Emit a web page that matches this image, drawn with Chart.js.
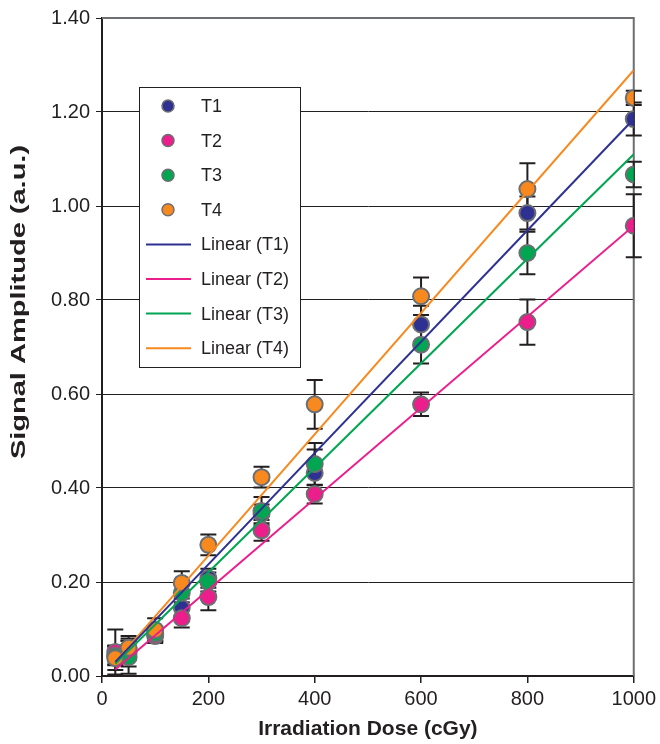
<!DOCTYPE html>
<html>
<head>
<meta charset="utf-8">
<script src="https://cdn.jsdelivr.net/npm/chart.js@4.4.1/dist/chart.umd.min.js"></script>
<style>
  html, body { margin: 0; padding: 0; background: #fff; }
  #wrap { width: 660px; height: 744px; position: relative; }
</style>
</head>
<body>
<div id="wrap"><canvas id="chart"></canvas></div>
<script>
// Dosis (cGy)
const doses = [25, 50, 100, 150, 200, 300, 400, 600, 800, 1000];

// Amplitud de señal por serie
const t1 = [0.045, 0.05, 0.09, 0.145, 0.208, 0.345, 0.432, 0.748, 0.985, 1.185];
const t2 = [0.051, 0.055, 0.085, 0.123, 0.168, 0.31, 0.387, 0.578, 0.753, 0.958];
const t3 = [0.043, 0.04, 0.09, 0.177, 0.20, 0.351, 0.451, 0.705, 0.90, 1.067];
const t4 = [0.038, 0.06, 0.098, 0.198, 0.279, 0.423, 0.578, 0.808, 1.036, 1.23];

// Barras de error (+/-)
const t1Err = [0.02, 0.03, 0.015, 0.02, 0.02, 0.02, 0.05, 0.04, 0.035, 0.035];
const t2Err = [0.048, 0.02, 0.015, 0.02, 0.028, 0.022, 0.02, 0.025, 0.048, 0.067];
const t3Err = [0.02, 0.035, 0.015, 0.02, 0.02, 0.03, 0.045, 0.04, 0.045, 0.027];
const t4Err = [0.025, 0.025, 0.025, 0.025, 0.022, 0.022, 0.052, 0.04, 0.055, 0.015];

// Tendencias lineales (valor en la primera y última dosis)
const trendStart = [0.03, 0.014, 0.026, 0.03];
const trendEnd   = [1.185, 0.958, 1.11, 1.289];

const seriesNames = ['T1', 'T2', 'T3', 'T4'];
const seriesValues = [t1, t2, t3, t4];
const seriesErrors = [t1Err, t2Err, t3Err, t4Err];
const colors = ['#2E3192', '#EC1E8C', '#00A651', '#F7891F'];

const yTicks = [0, 0.2, 0.4, 0.6, 0.8, 1.0, 1.2, 1.4];
const xTicks = [0, 200, 400, 600, 800, 1000];

const FONT = '"Liberation Sans", Arial, sans-serif';
const INK = '#231F20';

function points(vals) {
    return doses.map(function (d, i) { return { x: d, y: vals[i] }; });
}

const datasets = [];
seriesNames.forEach(function (name, i) {
    datasets.push({
        type: 'scatter',
        label: name,
        data: points(seriesValues[i]),
        errors: seriesErrors[i],
        backgroundColor: colors[i],
        borderColor: '#6D6E71',
        borderWidth: 2,
        pointRadius: 8,
        pointHoverRadius: 8,
        order: 5 - i
    });
});
seriesNames.forEach(function (name, i) {
    datasets.push({
        type: 'line',
        label: 'Linear (' + name + ')',
        data: [
            { x: doses[0], y: trendStart[i] },
            { x: doses[doses.length - 1], y: trendEnd[i] }
        ],
        borderColor: colors[i],
        borderWidth: 2,
        pointRadius: 0,
        fill: false,
        order: 1
    });
});

// Barras de error, debajo de los marcadores
const errorBars = {
    id: 'errorBars',
    beforeDatasetsDraw: function (chart) {
        const ctx = chart.ctx;
        const xs = chart.scales.x, ys = chart.scales.y;
        ctx.save();
        ctx.strokeStyle = INK;
        ctx.lineWidth = 2;
        chart.data.datasets.forEach(function (ds) {
            if (!ds.errors) return;
            ds.data.forEach(function (p, i) {
                const e = ds.errors[i];
                const px = xs.getPixelForValue(p.x);
                const top = ys.getPixelForValue(p.y + e);
                const bot = ys.getPixelForValue(p.y - e);
                ctx.beginPath();
                ctx.moveTo(px, top); ctx.lineTo(px, bot);
                ctx.moveTo(px - 8, top); ctx.lineTo(px + 8, top);
                ctx.moveTo(px - 8, bot); ctx.lineTo(px + 8, bot);
                ctx.stroke();
            });
        });
        ctx.restore();
    }
};

// Borde gris superior y derecho del área de trazado
const frame = {
    id: 'frame',
    beforeDatasetsDraw: function (chart) {
        const a = chart.chartArea, ctx = chart.ctx;
        ctx.save();
        ctx.strokeStyle = '#6D6E71';
        ctx.lineWidth = 2;
        ctx.beginPath();
        ctx.moveTo(a.left, a.top); ctx.lineTo(a.right, a.top); ctx.lineTo(a.right, a.bottom);
        ctx.stroke();
        ctx.restore();
    }
};

// Título del eje Y (más alargado que el del eje X)
const yTitle = {
    id: 'yTitle',
    afterDraw: function (chart) {
        const ctx = chart.ctx;
        ctx.save();
        ctx.translate(19, 302);
        ctx.rotate(-Math.PI / 2);
        ctx.scale(1.45, 1);
        ctx.font = 'bold 20px ' + FONT;
        ctx.fillStyle = INK;
        ctx.textAlign = 'center';
        ctx.textBaseline = 'middle';
        ctx.fillText('Signal Amplitude (a.u.)', 0, 0);
        ctx.restore();
    }
};

// Leyenda dentro del gráfico
const boxLegend = {
    id: 'boxLegend',
    afterDraw: function (chart) {
        const ctx = chart.ctx;
        const bx = 139, by = 87, bw = 161, bh = 280;
        ctx.save();
        ctx.fillStyle = '#fff';
        ctx.fillRect(bx, by, bw, bh);
        ctx.strokeStyle = INK;
        ctx.lineWidth = 1;
        ctx.strokeRect(bx + 0.5, by + 0.5, bw, bh);
        ctx.font = '18px ' + FONT;
        ctx.textBaseline = 'middle';
        chart.data.datasets.forEach(function (ds, i) {
            const y = by + 19 + i * 34.6;
            if (ds.type === 'scatter') {
                ctx.beginPath();
                ctx.arc(168, y, 6, 0, Math.PI * 2);
                ctx.fillStyle = ds.backgroundColor;
                ctx.fill();
                ctx.lineWidth = 1.5;
                ctx.strokeStyle = '#6D6E71';
                ctx.stroke();
            } else {
                ctx.beginPath();
                ctx.moveTo(146, y); ctx.lineTo(191, y);
                ctx.lineWidth = 2;
                ctx.strokeStyle = ds.borderColor;
                ctx.stroke();
            }
            ctx.fillStyle = INK;
            ctx.fillText(ds.label, 201, y + 1);
        });
        ctx.restore();
    }
};

new Chart(document.getElementById('chart'), {
    data: { datasets: datasets },
    plugins: [frame, errorBars, boxLegend, yTitle],
    options: {
        responsive: true,
        maintainAspectRatio: false,
        animation: false,
        layout: { padding: { top: 18, right: 26, left: 0, bottom: 0 } },
        plugins: {
            legend: { display: false },
            tooltip: { enabled: false }
        },
        scales: {
            x: {
                type: 'linear',
                min: 0, max: 1000,
                afterBuildTicks: function (s) { s.ticks = xTicks.map(function (v) { return { value: v }; }); },
                afterFit: function (s) { s.height = 68; },
                grid: { drawOnChartArea: false, drawTicks: true, tickLength: 7, color: INK, lineWidth: 1.5 },
                border: { color: INK, width: 2 },
                ticks: {
                    color: INK,
                    font: { family: FONT, size: 20 },
                    padding: 4,
                    maxRotation: 0,
                    callback: function (v) { return String(v); }
                },
                title: {
                    display: true,
                    text: 'Irradiation Dose (cGy)',
                    color: INK,
                    font: { family: FONT, size: 21, weight: 'bold' },
                    padding: { top: 0, bottom: 2 }
                }
            },
            y: {
                type: 'linear',
                min: 0, max: 1.4,
                afterBuildTicks: function (s) { s.ticks = yTicks.map(function (v) { return { value: v }; }); },
                afterFit: function (s) { s.width = 102; },
                grid: {
                    color: function (c) { return c.tick && c.tick.value >= 1.4 ? '#6D6E71' : INK; },
                    lineWidth: 1,
                    tickLength: 6,
                    tickColor: INK
                },
                border: { color: INK, width: 2 },
                ticks: {
                    color: INK,
                    font: { family: FONT, size: 20 },
                    padding: 6,
                    callback: function (v) { return Number(v).toFixed(2); }
                }
            }
        }
    }
});
</script>
</body>
</html>
